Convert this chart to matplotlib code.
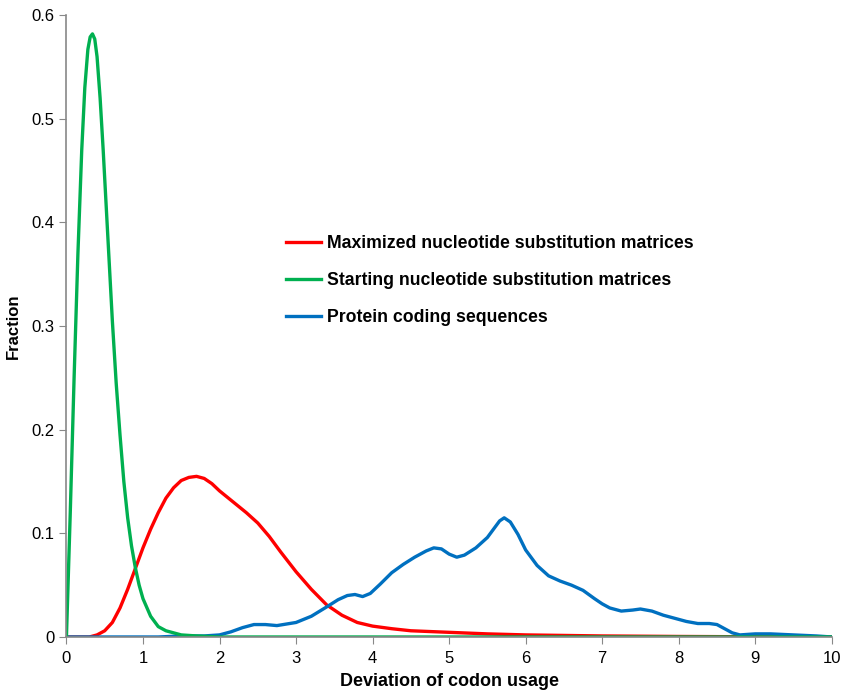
import numpy as np
import matplotlib.pyplot as plt

plt.rcParams['font.family'] = ['Liberation Sans', 'DejaVu Sans']

# Maximized nucleotide substitution matrices
x_max = [0, 0.3, 0.4, 0.5, 0.6, 0.7, 0.8, 0.9, 1.0, 1.1, 1.2, 1.3, 1.4, 1.5, 1.6, 1.7, 1.8,
         1.9, 2.0, 2.1, 2.2, 2.35, 2.5, 2.65, 2.8, 3.0, 3.2, 3.4, 3.6, 3.8, 4.0, 4.25,
         4.5, 5.0, 5.5, 6.0, 7.0, 8.0, 9.0, 10.0]
y_max = [0, 0, 0.002, 0.006, 0.014, 0.028, 0.046, 0.066, 0.086, 0.104, 0.12, 0.134, 0.144,
         0.151, 0.154, 0.155, 0.153, 0.148, 0.141, 0.135, 0.129, 0.12, 0.11, 0.097, 0.082,
         0.063, 0.046, 0.031, 0.021, 0.014, 0.0105, 0.008, 0.006, 0.0045, 0.003, 0.002,
         0.001, 0.0005, 0.0002, 0]

# Starting nucleotide substitution matrices
x_start = [0, 0.05, 0.1, 0.15, 0.2, 0.24, 0.28, 0.31, 0.34, 0.37, 0.4, 0.44, 0.48, 0.52,
           0.56, 0.6, 0.65, 0.7, 0.75, 0.8, 0.85, 0.9, 0.95, 1.0, 1.1, 1.2, 1.3, 1.4,
           1.5, 1.7, 2.0, 10.0]
y_start = [0, 0.12, 0.25, 0.37, 0.47, 0.53, 0.567, 0.579, 0.582, 0.577, 0.56, 0.52, 0.47,
           0.415, 0.36, 0.305, 0.245, 0.195, 0.15, 0.115, 0.088, 0.067, 0.05, 0.037,
           0.02, 0.01, 0.006, 0.004, 0.002, 0.001, 0, 0]

# Protein coding sequences
x_prot = [0, 1.2, 1.5, 1.8, 2.0, 2.15, 2.3, 2.45, 2.6, 2.75, 3.0, 3.2, 3.4, 3.55, 3.67,
          3.77, 3.87, 3.97, 4.1, 4.25, 4.4, 4.55, 4.7, 4.8, 4.9, 5.0, 5.1, 5.2, 5.35, 5.5,
          5.6, 5.66, 5.72, 5.8, 5.9, 6.0, 6.15, 6.3, 6.45, 6.6, 6.75, 6.9, 7.0, 7.1, 7.25,
          7.4, 7.5, 7.65, 7.8, 7.95, 8.1, 8.25, 8.4, 8.5, 8.6, 8.7, 8.8, 9.0, 9.2, 9.5,
          9.8, 10.0]
y_prot = [0, 0, 0.001, 0.001, 0.002, 0.005, 0.009, 0.012, 0.012, 0.011, 0.014, 0.02,
          0.029, 0.036, 0.04, 0.041, 0.039, 0.042, 0.051, 0.062, 0.07, 0.077, 0.083, 0.086,
          0.085, 0.08, 0.077, 0.079, 0.086, 0.096, 0.106, 0.112, 0.115, 0.111, 0.099,
          0.084, 0.069, 0.059, 0.054, 0.05, 0.045, 0.037, 0.032, 0.028, 0.025, 0.026,
          0.027, 0.025, 0.021, 0.018, 0.015, 0.013, 0.013, 0.012, 0.008, 0.004, 0.002,
          0.003, 0.003, 0.002, 0.001, 0]

fig = plt.figure(figsize=(8.41, 6.92), dpi=100)
ax = fig.add_axes([0.079, 0.0795, 0.91, 0.8985])

ax.plot(x_max, y_max, color='#ff0000', lw=2.4, solid_joinstyle='round',
        label='Maximized nucleotide substitution matrices')
ax.plot(x_prot, y_prot, color='#0070c0', lw=2.4, solid_joinstyle='round',
        label='Protein coding sequences')
ax.plot(x_start, y_start, color='#00b050', lw=2.4, solid_joinstyle='round',
        label='Starting nucleotide substitution matrices')

ax.set_xlim(0, 10)
ax.set_ylim(0, 0.6)
ax.set_xticks(range(0, 11))
ax.set_yticks([0, 0.1, 0.2, 0.3, 0.4, 0.5, 0.6])
ax.set_yticklabels(['0', '0.1', '0.2', '0.3', '0.4', '0.5', '0.6'])
ax.tick_params(labelsize=12, length=5, color='#888888', direction='out')
ax.tick_params(axis='x', pad=5)
for s in ['top', 'right']:
    ax.spines[s].set_visible(False)
for s in ['left', 'bottom']:
    ax.spines[s].set_color('#888888')
    ax.spines[s].set_linewidth(1.2)

ax.set_xlabel('Deviation of codon usage', fontsize=13, fontweight='bold', labelpad=5)
ax.set_ylabel('Fraction', fontsize=12, fontweight='bold', labelpad=8)

h, l = ax.get_legend_handles_labels()
order = [0, 2, 1]
ax.legend([h[i] for i in order], [l[i] for i in order], loc='upper left',
          bbox_to_anchor=(0.266, 0.672), frameon=False, handlelength=2.0,
          handletextpad=0.35, labelspacing=1.13, prop={'weight': 'bold', 'size': 12.7})

fig.savefig('out.png', dpi=100)
